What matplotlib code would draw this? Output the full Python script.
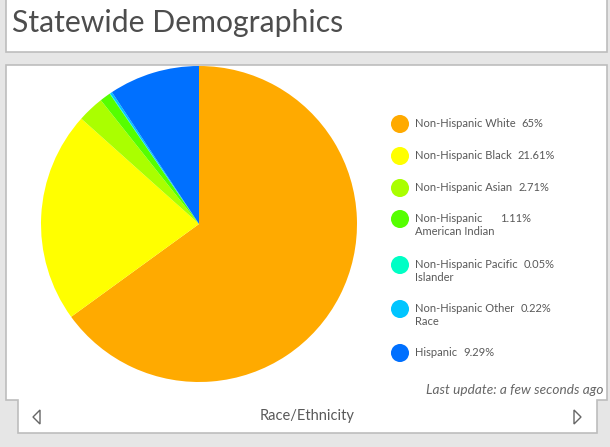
import matplotlib.pyplot as plt
from matplotlib.patches import Polygon, Rectangle

# data
categories = ['Non-Hispanic White', 'Non-Hispanic Black', 'Non-Hispanic Asian',
              'Non-Hispanic\nAmerican Indian', 'Non-Hispanic Pacific\nIslander',
              'Non-Hispanic Other\nRace', 'Hispanic']
shares = [65.0, 21.61, 2.71, 1.11, 0.05, 0.22, 9.29]
value_labels = ['65%', '21.61%', '2.71%', '1.11%', '0.05%', '0.22%', '9.29%']
colors = ['#ffaa00', '#ffff00', '#aaff00', '#55ff00', '#00ffc5', '#00c5ff', '#0070ff']

W, H = 610, 447
FONT = 'Lato'
TEXT = '#595959'

fig = plt.figure(figsize=(W / 100, H / 100), dpi=100)
fig.patch.set_facecolor('#e6e6e6')

# overlay axes in pixel coordinates
ax = fig.add_axes([0, 0, 1, 1])
ax.set_xlim(0, W)
ax.set_ylim(H, 0)
ax.axis('off')

# title panel
ax.add_patch(Rectangle((6, -2), 601, 54, facecolor='white',
                       edgecolor='#bdbdbd', linewidth=1.2))
ax.text(12, 23, 'Statewide Demographics', fontsize=21.7, family=FONT,
        color='#4d4d4d', va='center', ha='left')

# main panel with the navigation tab under it
outline = [(6, 65), (607, 65), (607, 400), (597, 400), (597, 433),
           (18, 433), (18, 400), (6, 400)]
ax.add_patch(Polygon(outline, closed=True, facecolor='white',
                     edgecolor='#bdbdbd', linewidth=1.2))

# pie
cx, cy, r = 199, 224, 158
pax = fig.add_axes([(cx - r) / W, (H - cy - r) / H, 2 * r / W, 2 * r / H])
pax.pie(shares, colors=colors, startangle=90, counterclock=False, radius=1,
        wedgeprops=dict(linewidth=0))
pax.set_xlim(-1, 1)
pax.set_ylim(-1, 1)
pax.axis('off')

# legend
legend_y = [124, 156, 188, 219, 265, 309, 353]
ax.scatter([400] * len(categories), legend_y, s=13 ** 2, c=colors,
           edgecolors='none', zorder=3)
fig.canvas.draw()
renderer = fig.canvas.get_renderer()
for lab, val, y in zip(categories, value_labels, legend_y):
    t = ax.text(415, y - 6, lab, fontsize=8, family=FONT, color=TEXT,
                va='top', ha='left', linespacing=1.25)
    bb = t.get_window_extent(renderer)
    ax.text(bb.x1 + 6, y - 6, val, fontsize=8, family=FONT, color=TEXT,
            va='top', ha='left')

ax.text(603, 390, 'Last update: a few seconds ago', fontsize=9.8, family=FONT,
        style='italic', color='#666666', ha='right', va='center')

# navigation tab
ax.text(307, 416, 'Race/Ethnicity', fontsize=10.5, family=FONT, color=TEXT,
        ha='center', va='center')
ax.add_patch(Polygon([(40, 410), (33, 417), (40, 424)], closed=True,
                     fill=False, edgecolor='#666666', linewidth=1))
ax.add_patch(Polygon([(574, 410), (581, 417), (574, 424)], closed=True,
                     fill=False, edgecolor='#666666', linewidth=1))

fig.savefig('out.png', dpi=100, facecolor=fig.get_facecolor())
